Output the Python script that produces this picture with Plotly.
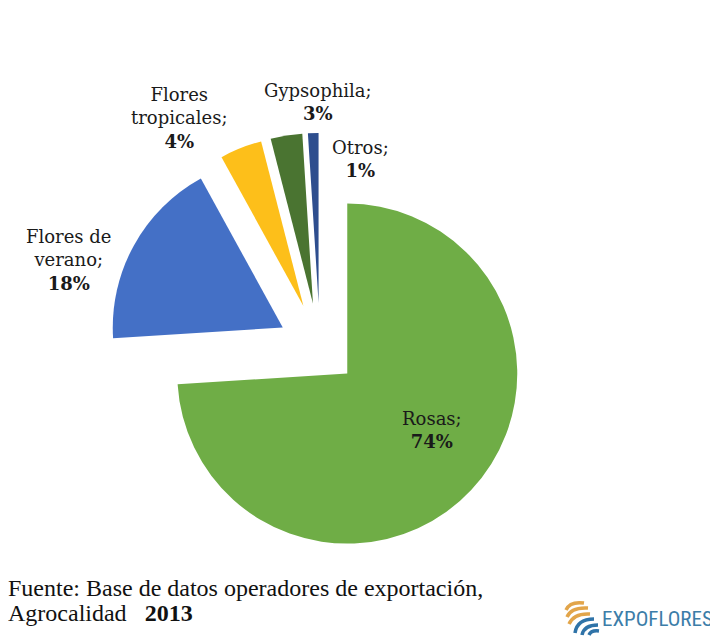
import plotly.graph_objects as go

# ---- data ----
categories = ["Rosas", "Flores de verano", "Flores tropicales", "Gypsophila", "Otros"]
shares = [74, 18, 4, 3, 1]
label_text = ["Rosas;", "Flores de<br>verano;", "Flores<br>tropicales;", "Gypsophila;", "Otros;"]
source_line1 = "Fuente: Base de datos operadores de exportación,"
source_line2 = "Agrocalidad"
source_year = "2013"
logo_text = "EXPOFLORES"

W, H = 718, 636
OFF = 8  # page body margin offset
colors = ["#6FAD46", "#4470C6", "#FDBF1A", "#4A7431", "#2E4E8E"]
pulls = [0.22, 0.25, 0.265, 0.265, 0.265]

# pie geometry in (screen) pixels
cx, cy, r = 320, 348, 170
half = r * (1 + max(pulls))


def px(x):
    return (x - OFF) / W


def py(y):
    return 1 - (y - OFF) / H


fig = go.Figure(go.Pie(
    labels=categories,
    values=shares,
    sort=False,
    direction="clockwise",
    rotation=0,
    pull=pulls,
    marker=dict(colors=colors, line=dict(width=0)),
    textinfo="none",
    hoverinfo="label+percent",
    showlegend=False,
    domain=dict(x=[px(cx - half), px(cx + half)], y=[py(cy + half), py(cy - half)]),
))

# label anchor positions (pixel centres)
label_pos = [(432, 430), (68, 260), (179, 118), (318, 102), (360, 159)]
annotations = []
for txt, val, (x, y) in zip(label_text, shares, label_pos):
    annotations.append(dict(
        x=px(x), y=py(y), xref="paper", yref="paper",
        text=f"{txt}<br><b>{val}%</b>", showarrow=False,
        xanchor="center", yanchor="middle", align="center",
        font=dict(family="DejaVu Serif", size=18, color="#1a1a1a"),
    ))

annotations.append(dict(
    x=px(6), y=py(588), xref="paper", yref="paper", text=source_line1,
    showarrow=False, xanchor="left", yanchor="middle",
    font=dict(family="Liberation Serif", size=24, color="#111111"),
))
annotations.append(dict(
    x=px(6), y=py(613), xref="paper", yref="paper",
    text=f"{source_line2}&nbsp;&nbsp;&nbsp;<b>{source_year}</b>",
    showarrow=False, xanchor="left", yanchor="middle",
    font=dict(family="Liberation Serif", size=24, color="#111111"),
))
annotations.append(dict(
    x=px(600), y=py(619), xref="paper", yref="paper", text=logo_text,
    showarrow=False, xanchor="left", yanchor="middle",
    font=dict(family="Roboto Condensed, Liberation Sans Narrow, Roboto", size=21, color="#3C7DA8"),
))


def path_from(points):
    s = "M {} {}".format(px(points[0][0]), py(points[0][1]))
    i = 1
    while i + 1 < len(points):
        (qx, qy), (ex, ey) = points[i], points[i + 1]
        s += " Q {} {} {} {}".format(px(qx), py(qy), px(ex), py(ey))
        i += 2
    return s


# simple swirl logo
shapes = []
orange_curves = [
    [(566, 610), (570, 601), (584, 603)],
    [(567, 617), (571, 607), (588, 608)],
    [(569, 624), (574, 613), (590, 614)],
]
blue_curves = [
    [(575, 633), (577, 619), (594, 619)],
    [(582, 635), (584, 625), (598, 625)],
    [(589, 635), (591, 630), (599, 631)],
]
for c in orange_curves:
    shapes.append(dict(type="path", xref="paper", yref="paper", path=path_from(c),
                       line=dict(color="#E2A54A", width=3.5)))
for c in blue_curves:
    shapes.append(dict(type="path", xref="paper", yref="paper", path=path_from(c),
                       line=dict(color="#2F73A8", width=3.5)))

fig.update_layout(
    width=W, height=H,
    margin=dict(l=0, r=0, t=0, b=0),
    paper_bgcolor="white", plot_bgcolor="white",
    annotations=annotations,
    shapes=shapes,
)

fig.write_html("out.html")
